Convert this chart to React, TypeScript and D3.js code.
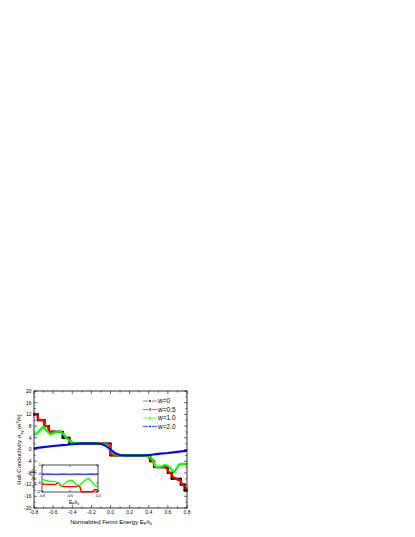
import React from 'react';
import * as d3 from 'd3';

const xTicks = [-0.8, -0.6, -0.4, -0.2, 0, 0.2, 0.4, 0.6, 0.8];
const xMinor = [-0.7, -0.5, -0.3, -0.1, 0.1, 0.3, 0.5, 0.7];
const yTicks = [20, 16, 12, 8, 4, 0, -4, -8, -12, -16, -20];
const yMinor = [18, 14, 10, 6, 2, -2, -6, -10, -14, -18];
const seriesNames = ['w=0', 'w=0.5', 'w=1.0', 'w=2.0'];
const seriesColors = ['#000000', '#ff0000', '#00ff00', '#0000ff'];

// w = 0 (sharp staircase)
const w0E = [-0.8, -0.76, -0.76, -0.69, -0.69, -0.645, -0.645, -0.5, -0.5, -0.43, -0.43, 0, 0, 0.415, 0.415, 0.455, 0.455, 0.6, 0.6, 0.64, 0.64, 0.735, 0.735, 0.775, 0.775, 0.8];
const w0S = [12, 12, 10, 10, 8, 8, 6, 6, 4, 4, 2, 2, -2, -2, -4, -4, -6, -6, -8, -8, -10, -10, -12, -12, -14, -14];
// w = 0.5
const w05E = [-0.8, -0.765, -0.755, -0.7, -0.685, -0.655, -0.64, -0.52, -0.5, -0.47, -0.44, -0.41, -0.38, -0.3, -0.1, -0.03, -0.005, 0.005, 0.03, 0.1, 0.3, 0.39, 0.41, 0.43, 0.45, 0.465, 0.5, 0.57, 0.59, 0.61, 0.635, 0.65, 0.685, 0.7, 0.73, 0.745, 0.77, 0.785, 0.8];
const w05S = [12.3, 12, 10.2, 10, 8.1, 8, 6.2, 6, 5.6, 4.3, 3.8, 2.6, 2.1, 2.0, 2.0, 1.9, 1.6, -1.6, -1.9, -2.0, -2.0, -2.2, -3.0, -4.0, -4.3, -5.8, -6.0, -6.0, -6.6, -7.8, -8.2, -9.4, -9.8, -10.3, -10.5, -11.8, -12.2, -13.0, -14.2];
// w = 1.0
const w10E = [-0.8, -0.77, -0.74, -0.7, -0.665, -0.63, -0.6, -0.56, -0.54, -0.51, -0.49, -0.46, -0.42, -0.38, -0.3, -0.15, -0.08, -0.04, -0.02, 0, 0.02, 0.04, 0.08, 0.15, 0.35, 0.4, 0.43, 0.445, 0.47, 0.52, 0.57, 0.6, 0.625, 0.645, 0.665, 0.68, 0.695, 0.72, 0.76, 0.8];
const w10S = [4.9, 5.5, 6.6, 7.8, 6.3, 5.2, 5.6, 6.0, 6.3, 5.8, 5.2, 3.8, 2.7, 2.3, 2.1, 2.1, 1.9, 1.5, 0.9, 0, -0.9, -1.5, -1.9, -2.0, -2.0, -2.3, -3.0, -3.7, -5.9, -6.0, -5.3, -5.6, -6.2, -7.2, -7.8, -7.0, -6.2, -5.1, -4.9, -5.0];
// w = 2.0
const w20E = [-0.8, -0.7, -0.6, -0.5, -0.45, -0.4, -0.35, -0.25, -0.15, -0.1, -0.06, -0.03, 0, 0.03, 0.06, 0.1, 0.15, 0.3, 0.38, 0.45, 0.5, 0.6, 0.7, 0.8];
const w20S = [0.45, 0.8, 1.2, 1.5, 1.65, 1.85, 2.0, 2.1, 2.05, 1.9, 1.45, 0.8, 0, -0.8, -1.45, -1.9, -2.05, -2.05, -1.95, -1.7, -1.5, -1.2, -0.8, -0.4];

// inset
const insetXTicks = [-0.8, -0.6, -0.4];
const insetYTicks = [0, -4, -8, -12];
const inRedE = [-0.8, -0.7, -0.69, -0.675, -0.66, -0.55, -0.54, -0.53, -0.52, -0.44, -0.425, -0.41, -0.4];
const inRedS = [-8.6, -8.6, -8.0, -8.4, -9.6, -9.6, -9.0, -9.5, -11.9, -11.9, -10.9, -11.0, -11.6];
const inGreenE = [-0.8, -0.78, -0.743, -0.707, -0.683, -0.659, -0.624, -0.588, -0.564, -0.54, -0.505, -0.469, -0.445, -0.421, -0.4];
const inGreenS = [-6.5, -6.7, -7.3, -7.3, -8.1, -9.6, -7.4, -6.7, -8.1, -9.6, -7.4, -5.9, -7.3, -9.3, -9.6];
const inBlueE = [-0.8, -0.75, -0.7, -0.65, -0.6, -0.55, -0.5, -0.45, -0.4];
const inBlueS = [-4.1, -4.0, -4.1, -4.0, -4.1, -4.0, -4.1, -4.0, -4.1];

const FONT = 'Liberation Sans, Arial, sans-serif';

const zip = (a: number[], b: number[]) => a.map((v, i) => [v, b[i]] as [number, number]);

export default function App() {
  const L = 34, R = 187, T = 391, B = 508;
  const x = d3.scaleLinear().domain([-0.8, 0.8]).range([L, R]);
  const y = d3.scaleLinear().domain([-20, 20]).range([B, T]);
  const line = d3.line<[number, number]>().x(d => x(d[0])).y(d => y(d[1]));

  const IL = 42, IR = 98, IT = 465, IB = 492;
  const ix = d3.scaleLinear().domain([-0.8, -0.4]).range([IL, IR]);
  const iy = d3.scaleLinear().domain([-12, 0]).range([IB, IT]);
  const iline = d3.line<[number, number]>().x(d => ix(d[0])).y(d => iy(d[1]));

  const mainSeries = [zip(w0E, w0S), zip(w05E, w05S), zip(w10E, w10S), zip(w20E, w20S)];

  const marker = (i: number, cx: number, cy: number, s: number) => {
    const c = seriesColors[i];
    if (i === 0) return <rect x={cx - s / 2} y={cy - s / 2} width={s} height={s} fill="#555" />;
    if (i === 1) return <circle cx={cx} cy={cy} r={s / 2} fill="none" stroke={c} strokeWidth={0.8} />;
    if (i === 2) return <path d={`M${cx},${cy - s / 2}L${cx + s / 2},${cy + s / 2}L${cx - s / 2},${cy + s / 2}Z`} fill="none" stroke={c} strokeWidth={0.8} />;
    return <path d={`M${cx - s / 2},${cy}L${cx + s / 2},${cy}M${cx},${cy - s / 2}L${cx},${cy + s / 2}`} stroke={c} strokeWidth={0.8} />;
  };

  return (
    <svg width={415} height={537} style={{ position: 'absolute', left: 0, top: 0, background: '#fff' }} fontFamily={FONT}>
      <rect x={0} y={0} width={415} height={537} fill="#fff" />
      {/* series */}
      <g fill="none" strokeLinejoin="round">
        <path d={line(mainSeries[0]) || ''} stroke={seriesColors[0]} strokeWidth={2.2} />
        {mainSeries[0].map((d, k) => (
          <rect key={k} x={x(d[0]) - 1} y={y(d[1]) - 1} width={2} height={2} fill="#000" />
        ))}
        <path d={line(mainSeries[1]) || ''} stroke={seriesColors[1]} strokeWidth={2.2} />
        <path d={line(mainSeries[2]) || ''} stroke={seriesColors[2]} strokeWidth={2.2} />
        <path d={line(mainSeries[3]) || ''} stroke={seriesColors[3]} strokeWidth={2.1} />
      </g>
      {/* frame */}
      <rect x={L} y={T} width={R - L} height={B - T} fill="none" stroke="#000" strokeWidth={0.8} />
      {/* ticks */}
      <g stroke="#000" strokeWidth={0.6}>
        {xTicks.map(t => (
          <g key={'xt' + t}>
            <line x1={x(t)} x2={x(t)} y1={B} y2={B - 3} />
            <line x1={x(t)} x2={x(t)} y1={T} y2={T + 3} />
          </g>
        ))}
        {xMinor.map(t => (
          <g key={'xm' + t}>
            <line x1={x(t)} x2={x(t)} y1={B} y2={B - 1.6} />
            <line x1={x(t)} x2={x(t)} y1={T} y2={T + 1.6} />
          </g>
        ))}
        {yTicks.map(t => (
          <g key={'yt' + t}>
            <line x1={L} x2={L + 3} y1={y(t)} y2={y(t)} />
            <line x1={R} x2={R - 3} y1={y(t)} y2={y(t)} />
          </g>
        ))}
        {yMinor.map(t => (
          <g key={'ym' + t}>
            <line x1={L} x2={L + 1.6} y1={y(t)} y2={y(t)} />
            <line x1={R} x2={R - 1.6} y1={y(t)} y2={y(t)} />
          </g>
        ))}
      </g>
      {/* tick labels */}
      <g fontSize={5} fill="#000">
        {xTicks.map(t => (
          <text key={'xl' + t} x={x(t)} y={B + 5.5} textAnchor="middle">{d3.format('.1f')(t).replace('−', '-')}</text>
        ))}
        {yTicks.map(t => (
          <text key={'yl' + t} x={L - 2.5} y={y(t) + 1.8} textAnchor="end">{String(t)}</text>
        ))}
      </g>
      {/* axis titles */}
      <text x={111} y={523.5} fontSize={6} textAnchor="middle" fill="#000">
        Normalized Fermi Energy E<tspan fontSize={4} dy={1.5}>F</tspan><tspan dy={-1.5}>/t</tspan><tspan fontSize={4} dy={1.5}>0</tspan>
      </text>
      <text transform={`translate(21,${(T + B) / 2}) rotate(-90)`} fontSize={6} textAnchor="middle" fill="#000">
        Hall  Conductivity  σ<tspan fontSize={4} dy={1.5}>xy</tspan><tspan dy={-1.5}> (e</tspan><tspan fontSize={4} dy={-2}>2</tspan><tspan dy={2}>/h)</tspan>
      </text>
      {/* legend */}
      <g>
        {seriesNames.map((n, i) => {
          const ly = 401 + i * 8.5;
          return (
            <g key={n}>
              <line x1={143} x2={157} y1={ly} y2={ly} stroke={seriesColors[i]} strokeWidth={0.9} opacity={i === 0 ? 0.5 : 0.75} strokeDasharray="5 1.5 1 1.5" />
              {marker(i, 150, ly, 2)}
              <text x={158} y={ly + 2.3} fontSize={6.5} fill="#000">{n}</text>
            </g>
          );
        })}
      </g>
      {/* inset */}
      <rect x={IL} y={IT} width={IR - IL} height={IB - IT} fill="#fff" stroke="#000" strokeWidth={0.7} />
      <g fill="none" strokeLinejoin="round">
        <path d={iline(zip(inBlueE, inBlueS)) || ''} stroke={seriesColors[3]} strokeWidth={1.2} />
        <path d={iline(zip(inRedE, inRedS)) || ''} stroke={seriesColors[1]} strokeWidth={1.4} />
        <path d={iline(zip(inGreenE, inGreenS)) || ''} stroke={seriesColors[2]} strokeWidth={1.2} />
      </g>
      <g stroke="#000" strokeWidth={0.5}>
        {insetXTicks.map(t => (
          <g key={'ixt' + t}>
            <line x1={ix(t)} x2={ix(t)} y1={IB} y2={IB - 2} />
            <line x1={ix(t)} x2={ix(t)} y1={IT} y2={IT + 2} />
          </g>
        ))}
        {insetYTicks.map(t => (
          <g key={'iyt' + t}>
            <line x1={IL} x2={IL + 2} y1={iy(t)} y2={iy(t)} />
            <line x1={IR} x2={IR - 2} y1={iy(t)} y2={iy(t)} />
          </g>
        ))}
      </g>
      <g fill="#000">
        {insetXTicks.map(t => (
          <text key={'ixl' + t} x={ix(t)} y={IB + 5.2} fontSize={3.5} textAnchor="middle">{d3.format('.1f')(t).replace('−', '-')}</text>
        ))}
        {insetYTicks.map(t => (
          <text key={'iyl' + t} x={IL - 1.2} y={iy(t) + 1.2} fontSize={3.5} textAnchor="end">{String(t)}</text>
        ))}
      </g>
      <text x={74} y={503.5} fontSize={5} textAnchor="middle" fill="#000">
        E<tspan fontSize={3.5} dy={1.2}>F</tspan><tspan dy={-1.2}>/t</tspan><tspan fontSize={3.5} dy={1.2}>0</tspan>
      </text>
      <text transform={`translate(34.5,${(IT + IB) / 2}) rotate(-90)`} fontSize={4.5} textAnchor="middle" fill="#000">
        σ<tspan fontSize={3.2} dy={1.2}>xy</tspan><tspan dy={-1.2}> (e</tspan><tspan fontSize={3.2} dy={-1.5}>2</tspan><tspan dy={1.5}>/h)</tspan>
      </text>
    </svg>
  );
}
